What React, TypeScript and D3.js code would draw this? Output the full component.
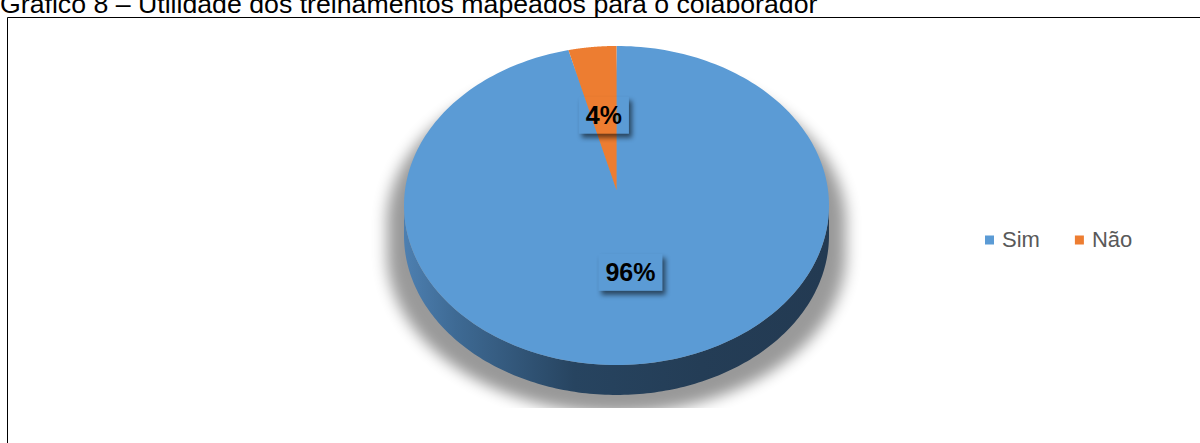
import React, { useEffect, useRef } from "react";
import * as d3 from "d3";

const titleText = "Gráfico 8 – Utilidade dos treinamentos mapeados para o colaborador";
const categories = ["Sim", "Não"];
const values = [96, 4];
const colors = ["#5B9BD5", "#ED7D31"];

const W = 1200;
const H = 443;

export default function App() {
  const ref = useRef<SVGSVGElement>(null);

  useEffect(() => {
    const svg = d3.select(ref.current);
    svg.selectAll("*").remove();

    const font = "'Liberation Sans', Arial, Helvetica, sans-serif";

    // 3D pie geometry (tilted disc with mild perspective)
    const cx = 616.5;
    const cy = 190;
    const Rx = 211.5;
    const Ry = 158;
    const persp = 0.097;
    const depth = 30;

    const proj = (a: number, r = 1, dy = 0): [number, number] => {
      const k = 1 + persp * r * Math.cos(a);
      return [cx + (Rx * r * Math.sin(a)) / k, cy - (Ry * r * Math.cos(a)) / k + dy];
    };

    const sample = (a0: number, a1: number, dy = 0, n = 180): [number, number][] => {
      const pts: [number, number][] = [];
      for (let i = 0; i <= n; i++) pts.push(proj(a0 + ((a1 - a0) * i) / n, 1, dy));
      return pts;
    };

    const line = d3.line<[number, number]>().curve(d3.curveLinear);

    const defs = svg.append("defs");
    const clip = defs.append("clipPath").attr("id", "plotClip");
    clip.append("rect").attr("x", 8).attr("y", 18).attr("width", W - 8).attr("height", 390);

    defs
      .append("filter")
      .attr("id", "pieShadow")
      .attr("x", "-20%")
      .attr("y", "-20%")
      .attr("width", "140%")
      .attr("height", "140%")
      .append("feGaussianBlur")
      .attr("stdDeviation", 7);

    defs
      .append("filter")
      .attr("id", "lblShadow")
      .attr("x", "-30%")
      .attr("y", "-30%")
      .attr("width", "160%")
      .attr("height", "160%")
      .append("feGaussianBlur")
      .attr("stdDeviation", 2.5);

    const wallGrad = defs
      .append("linearGradient")
      .attr("id", "wallGrad")
      .attr("gradientUnits", "userSpaceOnUse")
      .attr("x1", cx - Rx)
      .attr("x2", cx + Rx)
      .attr("y1", 0)
      .attr("y2", 0);
    [
      [0, "#4d7fb0"],
      [0.12, "#3e6a94"],
      [0.4, "#274460"],
      [0.7, "#243d56"],
      [1, "#233a52"],
    ].forEach(([o, c]) => wallGrad.append("stop").attr("offset", o as number).attr("stop-color", c as string));

    // Title and chart frame
    svg
      .append("text")
      .attr("x", 0)
      .attr("y", 12.5)
      .attr("font-family", font)
      .attr("font-size", 26.7)
      .attr("fill", "#000")
      .text(titleText);

    svg
      .append("path")
      .attr("d", `M7.5,${H} V17.5 H${W}`)
      .attr("fill", "none")
      .attr("stroke", "#000")
      .attr("stroke-width", 1);

    // Side extent of the disc silhouette
    const aSide = Math.acos(-persp);
    const front = sample(aSide, 2 * Math.PI - aSide);
    const frontLow = sample(aSide, 2 * Math.PI - aSide, depth).reverse();
    const wallPts = [...front, ...frontLow];
    const topPts = sample(0, 2 * Math.PI);

    // Soft shadow underneath the disc
    const shadowG = svg.append("g").attr("clip-path", "url(#plotClip)");
    const sg = shadowG
      .append("g")
      .attr("filter", "url(#pieShadow)")
      .attr("opacity", 0.4)
      .attr("transform", `translate(${cx},${cy + 18}) scale(1.08,1.0) translate(${-cx},${-cy})`);
    sg.append("path").attr("d", line(wallPts) + "Z").attr("fill", "#000");
    sg.append("path").attr("d", line(topPts) + "Z").attr("fill", "#000");

    // Side wall
    svg.append("path").attr("d", line(wallPts) + "Z").attr("fill", "url(#wallGrad)");

    // Top face slices
    const arcs = d3.pie<number>().sort(null).value((d) => d)(values);
    const topG = svg.append("g");
    arcs.forEach((a, i) => {
      const pts: [number, number][] = [proj(0, 0), ...sample(a.startAngle, a.endAngle, 0, 240)];
      topG.append("path").attr("d", line(pts) + "Z").attr("fill", colors[i]);
    });

    // Data labels with drop shadow
    const total = d3.sum(values);
    arcs.forEach((a, i) => {
      const mid = (a.startAngle + a.endAngle) / 2;
      const [lx, ly] = proj(mid, 0.5);
      const label = `${Math.round((values[i] / total) * 100)}%`;
      const g = svg.append("g");
      const t = g
        .append("text")
        .attr("x", lx)
        .attr("y", ly)
        .attr("dy", "0.36em")
        .attr("text-anchor", "middle")
        .attr("font-family", font)
        .attr("font-weight", "bold")
        .attr("font-size", 25)
        .attr("fill", "#000")
        .text(label);
      const tw = (t.node() as SVGTextElement).getComputedTextLength();
      const bw = tw + 14;
      const bh = 37;
      const bx = lx - bw / 2;
      const by = ly - bh / 2;
      const maskId = `lblMask${i}`;
      const mask = defs.append("mask").attr("id", maskId).attr("maskUnits", "userSpaceOnUse");
      mask.append("rect").attr("x", 0).attr("y", 0).attr("width", W).attr("height", H).attr("fill", "#fff");
      mask.append("rect").attr("x", bx).attr("y", by).attr("width", bw).attr("height", bh).attr("fill", "#000");
      g.insert("g", "text")
        .attr("mask", `url(#${maskId})`)
        .append("rect")
        .attr("x", bx + 3)
        .attr("y", by + 4)
        .attr("width", bw)
        .attr("height", bh)
        .attr("fill", "#000")
        .attr("opacity", 0.55)
        .attr("filter", "url(#lblShadow)");
    });

    // Legend
    const legend = svg.append("g").attr("font-family", font).attr("font-size", 22);
    let lx = 985;
    categories.forEach((c, i) => {
      legend.append("rect").attr("x", lx).attr("y", 235.5).attr("width", 9).attr("height", 9).attr("fill", colors[i]);
      const t = legend
        .append("text")
        .attr("x", lx + 17)
        .attr("y", 247)
        .attr("fill", "#595959")
        .text(c);
      const tw = (t.node() as SVGTextElement).getComputedTextLength();
      lx = lx + 17 + tw + 35;
    });
  }, []);

  return (
    <svg
      ref={ref}
      width={W}
      height={H}
      style={{ position: "absolute", left: 0, top: 0, background: "#fff" }}
    />
  );
}
